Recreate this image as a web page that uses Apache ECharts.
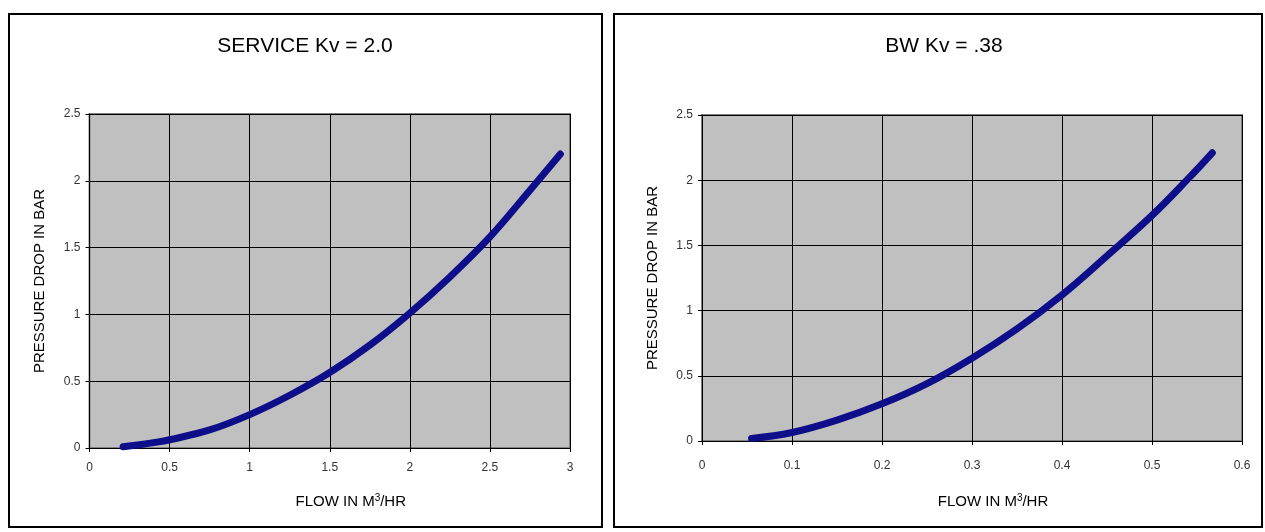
<!DOCTYPE html>
<html>
<head>
<meta charset="utf-8">
<script src="https://cdn.jsdelivr.net/npm/echarts@6/dist/echarts.min.js"></script>
<style>
html,body{margin:0;padding:0;background:#fff;}
#chart{width:1265px;height:532px;}
</style>
</head>
<body>
<div id="chart"></div>
<script>
// ---- data ----
const leftTitle = 'SERVICE Kv = 2.0';
const rightTitle = 'BW Kv = .38';
const leftFlow = [0.21, 0.3, 0.4, 0.5, 0.75, 1.0, 1.25, 1.5, 1.75, 2.0, 2.25, 2.5, 2.75, 2.94];
const leftDrop = [0.01, 0.022, 0.04, 0.062, 0.135, 0.25, 0.395, 0.565, 0.77, 1.01, 1.28, 1.58, 1.93, 2.2];
const rightFlow = [0.055, 0.1, 0.15, 0.2, 0.25, 0.3, 0.35, 0.4, 0.45, 0.5, 0.54, 0.567];
const rightDrop = [0.02, 0.065, 0.16, 0.285, 0.44, 0.635, 0.86, 1.12, 1.42, 1.73, 2.01, 2.21];
const yTitle = 'PRESSURE DROP IN BAR';

const pairs = (xs, ys) => xs.map((x, i) => [x, ys[i]]);

const FONT = 'Liberation Sans, Arial, sans-serif';
const lineColor = '#0e0e8a';

function xAxisCfg(gridIndex, max, interval, gap, labelMargin) {
  return {
    type: 'value', gridIndex, min: 0, max, interval,
    name: 'FLOW IN M{sup|3}/HR',
    nameLocation: 'middle', nameGap: gap,
    nameTextStyle: {
      fontFamily: FONT, fontSize: 15, color: '#000', padding: [0, 0, 0, 42],
      rich: { sup: { fontFamily: FONT, fontSize: 10, color: '#000', verticalAlign: 'top', padding: [0, 0, 8, 0] } }
    },
    axisLine: { show: true, lineStyle: { color: '#000', width: 1 } },
    axisTick: { show: true, length: 4, lineStyle: { color: '#000' } },
    axisLabel: { fontFamily: FONT, fontSize: 12, color: '#333', margin: labelMargin },
    splitLine: { show: true, lineStyle: { color: '#000', width: 1 } }
  };
}
function yAxisCfg(gridIndex) {
  return {
    type: 'value', gridIndex, min: 0, max: 2.5, interval: 0.5,
    name: yTitle, nameLocation: 'middle', nameGap: 42, nameRotate: 90,
    nameTextStyle: { fontFamily: FONT, fontSize: 15, color: '#000' },
    axisLine: { show: true, lineStyle: { color: '#000', width: 1 } },
    axisTick: { show: true, length: 4, lineStyle: { color: '#000' } },
    axisLabel: { fontFamily: FONT, fontSize: 12, color: '#333', margin: 9 },
    splitLine: { show: true, lineStyle: { color: '#000', width: 1 } }
  };
}
function seriesCfg(idx, data) {
  return {
    type: 'line', xAxisIndex: idx, yAxisIndex: idx, data,
    smooth: 0.4, showSymbol: false, symbol: 'none',
    lineStyle: { color: lineColor, width: 7, cap: 'round' },
    silent: true, animation: false
  };
}

const chart = echarts.init(document.getElementById('chart'), null, { renderer: 'canvas' });
chart.setOption({
  backgroundColor: '#fff',
  animation: false,
  grid: [
    { left: 89.5, top: 114, width: 480.5, height: 334, show: true, backgroundColor: '#c0c0c0', borderColor: '#808080', borderWidth: 2 },
    { left: 702, top: 115, width: 540, height: 326, show: true, backgroundColor: '#c0c0c0', borderColor: '#808080', borderWidth: 2 }
  ],
  xAxis: [xAxisCfg(0, 3, 0.5, 45, 14), xAxisCfg(1, 0.6, 0.1, 52, 19)],
  yAxis: [yAxisCfg(0), yAxisCfg(1)],
  series: [seriesCfg(0, pairs(leftFlow, leftDrop)), seriesCfg(1, pairs(rightFlow, rightDrop))],
  graphic: [
    { type: 'rect', shape: { x: 9, y: 14, width: 593, height: 513 }, style: { fill: 'none', stroke: '#000', lineWidth: 2 }, silent: true },
    { type: 'rect', shape: { x: 614, y: 14, width: 648, height: 513 }, style: { fill: 'none', stroke: '#000', lineWidth: 2 }, silent: true },
    { type: 'text', x: 305, y: 46, style: { text: leftTitle, font: '21px ' + FONT, fill: '#000', align: 'center', verticalAlign: 'middle' }, silent: true },
    { type: 'text', x: 944, y: 46, style: { text: rightTitle, font: '21px ' + FONT, fill: '#000', align: 'center', verticalAlign: 'middle' }, silent: true }
  ]
});
</script>
</body>
</html>
